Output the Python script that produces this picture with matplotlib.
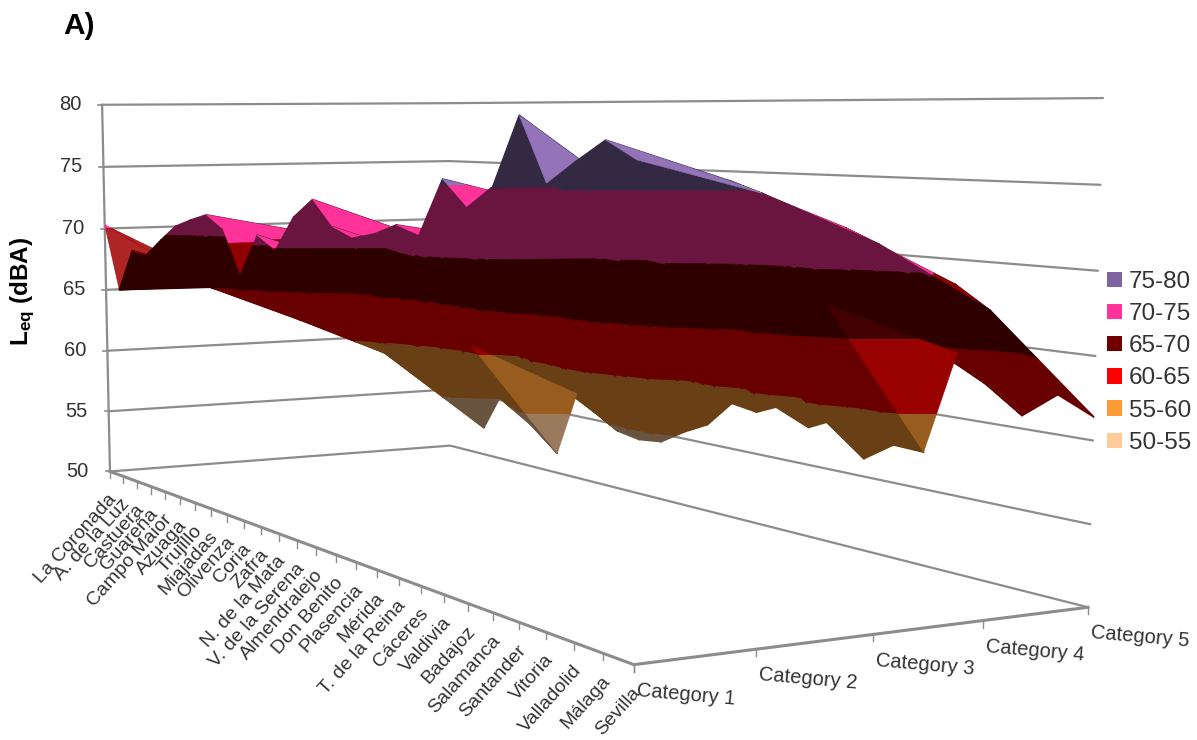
import numpy as np
import matplotlib
matplotlib.use("Agg")
import matplotlib.pyplot as plt
from matplotlib.collections import PolyCollection
from matplotlib.patches import Patch

plt.rcParams["font.family"] = ["Liberation Sans", "DejaVu Sans"]
plt.rcParams["mathtext.fontset"] = "custom"
plt.rcParams["mathtext.bf"] = "Liberation Sans:bold"
plt.rcParams["mathtext.rm"] = "Liberation Sans"

towns = ["La Coronada", "A. de la Luz", "Castuera", "Guareña", "Campo Maior", "Azuaga",
         "Trujillo", "Miajadas", "Olivenza", "Coria", "Zafra", "N. de la Mata",
         "V. de la Serena", "Almendralejo", "Don Benito", "Plasencia", "Mérida",
         "T. de la Reina", "Cáceres", "Valdivia", "Badajoz", "Salamanca", "Santander",
         "Vitoria", "Valladolid", "Málaga", "Sevilla"]
categories = ["Category 1", "Category 2", "Category 3", "Category 4", "Category 5"]

# Equivalent level (dBA) per town for each street category
leq_cat1 = [70.3, 65.2, 68.5, 68.3, 69.6, 70.8, 71.4, 71.9, 71.0, 67.8, 70.8, 69.9, 72.3, 73.6,
            71.9, 71.3, 71.7, 72.4, 71.9, 75.4, 73.8, 75.1, 79.2, 75.4, 76.7, 77.9, 76.9]
leq_cat2 = [66.4, 65.1, 65.5, 66.0, 66.5, 67.5, 68.0, 70.4, 68.0, 67.0, 68.0, 68.0, 68.5, 70.9,
            69.0, 69.0, 69.0, 69.5, 71.0, 73.5, 71.5, 72.0, 73.8, 73.0, 74.0, 75.6, 75.0]
leq_cat3 = [63.0, 62.1, 62.5, 63.0, 64.0, 65.0, 65.0, 65.2, 65.3, 65.3, 65.3, 65.2, 65.5, 66.0,
            66.0, 66.0, 66.5, 67.0, 69.5, 69.5, 69.5, 70.5, 71.0, 71.0, 71.5, 72.8, 72.0]
leq_cat4 = [60.0, 58.9, 59.5, 60.0, 60.5, 61.0, 60.8, 62.0, 61.5, 61.5, 61.0, 61.0, 61.5, 62.0,
            62.5, 62.5, 63.0, 63.5, 64.5, 64.5, 65.2, 67.3, 68.0, 68.0, 69.0, 69.3, 68.0]
leq_cat5 = [54.0, 53.6, 52.3, 55.5, 54.6, 53.1, 51.6, 56.8, 55.5, 54.5, 54.2, 54.4, 55.5, 56.4,
            58.3, 58.0, 58.8, 57.6, 58.5, 56.2, 57.5, 57.4, 64.1, 62.3, 60.8, 62.4, 61.4]

z_ticks = [50, 55, 60, 65, 70, 75, 80]
band_labels = ["75-80", "70-75", "65-70", "60-65", "55-60", "50-55"]
band_colors = ["#8064A2", "#FF3399", "#700000", "#FF0000", "#FF9933", "#FFCC99"]
# Colour of the sunlit faces where it departs from the legend swatch
lit_override = {"75-80": (0.58, 0.45, 0.725, 1.0), "65-70": (0.635, 0.0, 0.0, 0.86)}
UNDER, HALF = 0.41, 0.60

levels = np.column_stack([leq_cat1, leq_cat2, leq_cat3, leq_cat4, leq_cat5])
n_town, n_cat = levels.shape

fig = plt.figure(figsize=(11.97, 7.40), dpi=100)
ax = fig.add_axes([0, 0, 1, 1])
ax.set_xlim(0, 1197)
ax.set_ylim(740, 0)
ax.axis("off")

# Camera: a 3x4 projective matrix fitted to where the box corners fall on the canvas
box_3d = np.array([(0, 0, 50), (1, 0, 50), (0, 1, 50), (1, 1, 50),
                   (0, 0, 80), (0, 1, 80), (1, 1, 80)], float)
box_2d = np.array([(110, 471), (634, 665), (450, 446), (1088, 607),
                   (102, 105), (449, 103), (1103, 98)], float)
rows, rhs = [], []
for (a, b, c), (px, py) in zip(box_3d, box_2d):
    t = (c - 50) / 30
    rows.append([a, b, t, 1, 0, 0, 0, 0, -px * a, -px * b, -px * t])
    rows.append([0, 0, 0, 0, a, b, t, 1, -py * a, -py * b, -py * t])
    rhs += [px, py]
cam = np.append(np.linalg.lstsq(np.array(rows), np.array(rhs), rcond=None)[0], 1).reshape(3, 4)


def project(town, cat, z):
    """Canvas position of a (town index, category index, level) point."""
    p = cam @ np.array([town / (n_town - 1), cat / (n_cat - 1), (z - 50) / 30, 1.0])
    return p[:2] / p[2]


# Walls and floor
GRID = "#8C8C8C"
for z in z_ticks:
    pts = np.array([project(0, 0, z), project(0, n_cat - 1, z), project(n_town - 1, n_cat - 1, z)])
    ax.plot(pts[:, 0], pts[:, 1], color=GRID, lw=1.6, zorder=1, solid_capstyle="round")
    left = project(0, 0, z)
    ax.plot([left[0] - 4, left[0]], [left[1], left[1]], color=GRID, lw=1.2, zorder=1)
    ax.text(left[0] - 21, left[1], str(z), ha="right", va="center", fontsize=14.5, color="#333333")
wall = np.array([project(0, 0, 50), project(0, 0, 80)])
ax.plot(wall[:, 0], wall[:, 1], color=GRID, lw=1.6, zorder=1)
front = np.array([project(0, 0, 50), project(n_town - 1, 0, 50), project(n_town - 1, n_cat - 1, 50)])
ax.plot(front[:, 0], front[:, 1], color=GRID, lw=2.2, zorder=1, solid_joinstyle="miter")

# Town and category ticks along the front of the floor
for i, name in enumerate(towns):
    p = project(i, 0, 50)
    ax.plot([p[0], p[0]], [p[1], p[1] + 7], color=GRID, lw=1.0, zorder=1)
    ax.text(p[0] + 4, p[1] + 25, name, rotation=48, rotation_mode="anchor", ha="right",
            va="center", fontsize=14, color="#333333")
for j, name in enumerate(categories):
    p = project(n_town - 1, j, 50)
    ax.plot([p[0], p[0]], [p[1], p[1] + 7], color=GRID, lw=1.0, zorder=1)
    ax.text(p[0] + 52, p[1] + 30, name, rotation=-5, rotation_mode="anchor", ha="center",
            va="center", fontsize=14.5, color="#333333")


def band_of(k):
    return 50 + 5 * (len(band_labels) - 1 - k), 55 + 5 * (len(band_labels) - 1 - k)


def clip(tri, lo, hi):
    """Cut a (town, cat, level) triangle down to the part between two levels."""
    poly = list(tri)
    for limit, keep_above in ((lo, True), (hi, False)):
        out = []
        for a, b in zip(poly, poly[1:] + poly[:1]):
            ina = (a[2] >= limit) if keep_above else (a[2] <= limit)
            inb = (b[2] >= limit) if keep_above else (b[2] <= limit)
            if ina:
                out.append(a)
            if ina != inb:
                t = (limit - a[2]) / (b[2] - a[2])
                out.append(tuple(a[n] + t * (b[n] - a[n]) for n in range(3)))
        poly = out
        if not poly:
            break
    return poly


def face_color(k, factor):
    rgb = np.array(matplotlib.colors.to_rgb(band_colors[k]))
    if factor == 1.0:
        return lit_override.get(band_labels[k], (*rgb, 1.0))
    return (*(rgb * factor), 1.0)


polys, fills, widths = [], [], []
top_polys, top_fills, top_widths = [], [], []
# Far corner first so nearer facets paint over farther ones
for i in range(n_town - 1):
    for j in range(n_cat - 2, -1, -1):
        a = (i, j, levels[i, j])
        b = (i + 1, j, levels[i + 1, j])
        c = (i + 1, j + 1, levels[i + 1, j + 1])
        d = (i, j + 1, levels[i, j + 1])
        for tri, rise in (((a, c, d), c[2] - d[2]), ((a, b, c), b[2] - a[2])):
            p = [project(*q) for q in tri]
            cross = (p[1][0] - p[0][0]) * (p[2][1] - p[0][1]) - (p[1][1] - p[0][1]) * (p[2][0] - p[0][0])
            # Winding on the canvas tells which side of the surface faces the viewer;
            # steep rises between towns on the underside catch some of the light
            on_top = False
            factor = UNDER
            if cross < 0:
                if rise <= 0 and (j == 0 or i == n_town - 2):
                    factor = 1.0
            elif rise > 4 and j >= 1:
                factor, on_top = HALF, True
            for k in range(len(band_labels)):
                lo, hi = band_of(k)
                piece = clip(tri, lo, hi)
                if len(piece) >= 3:
                    target = (top_polys, top_fills, top_widths) if on_top else (polys, fills, widths)
                    target[0].append([project(*q) for q in piece])
                    target[1].append(face_color(k, factor))
                    target[2].append(1.1 if factor == UNDER else 0.4)

polys += top_polys
fills += top_fills
widths += top_widths
ax.add_collection(PolyCollection(polys, facecolors=fills, edgecolors=fills, linewidths=widths,
                                 joinstyle="round", zorder=2))

handles = [Patch(facecolor=c, edgecolor="none", label=l) for c, l in zip(band_colors, band_labels)]
ax.legend(handles=handles, loc="upper left", bbox_to_anchor=(1102 / 1197, 1 - 266 / 740), frameon=False,
          fontsize=17.5, labelcolor="#333333", handlelength=0.62, handleheight=0.6, handletextpad=0.3,
          labelspacing=0.42, borderpad=0.2, borderaxespad=0)

ax.text(63, 26, "A)", fontsize=21.5, fontweight="bold", color="black", ha="left", va="center")
ax.text(23, 291, r"$\mathbf{L_{eq}}$ (dBA)", rotation=90, fontsize=17.5, fontweight="bold",
        color="black", ha="center", va="center")

fig.savefig("out.png", dpi=100)
